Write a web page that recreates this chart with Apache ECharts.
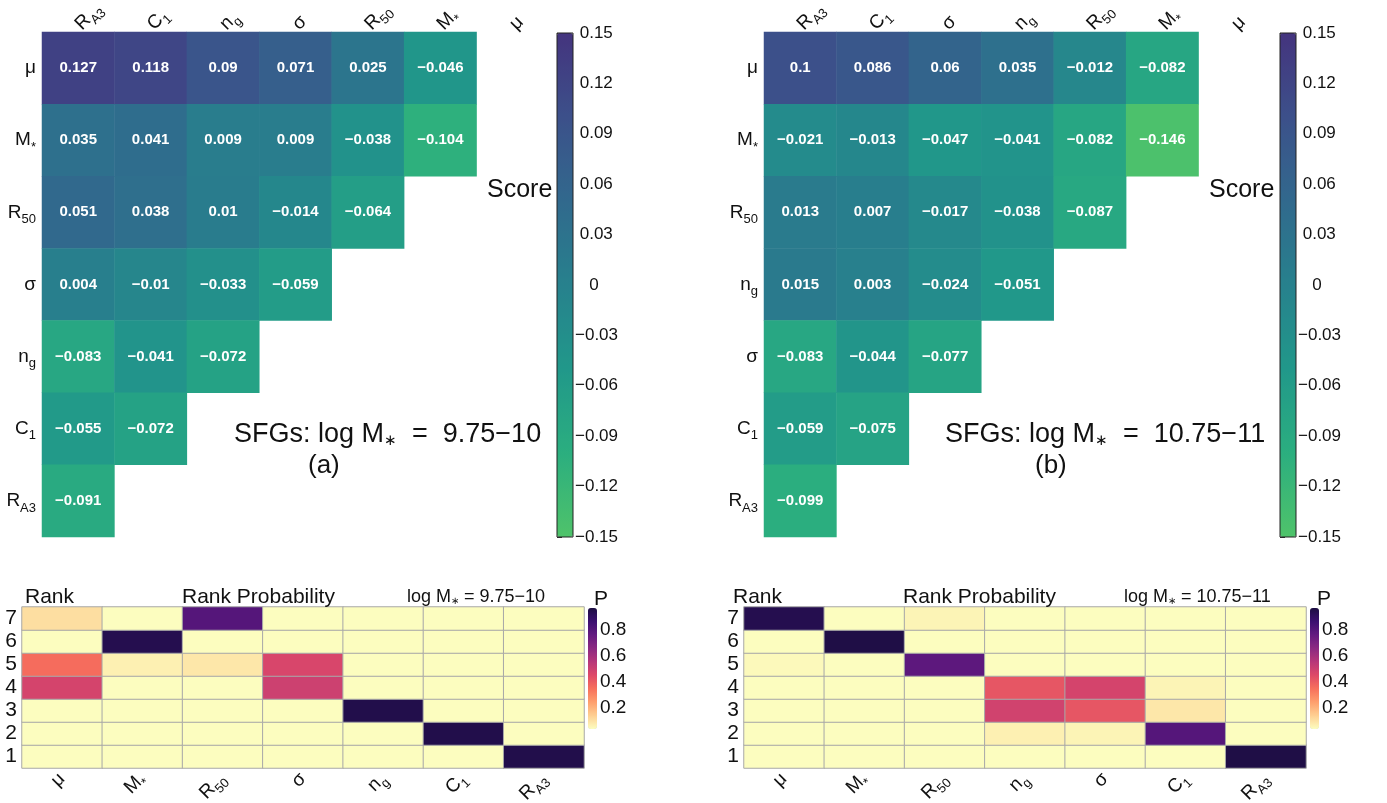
<!DOCTYPE html>
<html>
<head>
<meta charset="utf-8">
<script src="https://cdn.jsdelivr.net/npm/echarts@6/dist/echarts.min.js"></script>
<style>
  html, body { margin: 0; padding: 0; background: #fff; }
  #main { width: 1387px; height: 803px; }
</style>
</head>
<body>
<div id="main"></div>
<script>
// ---- data ---------------------------------------------------------------
// score matrices (upper panels), rows top->bottom, cols left->right
var colsA = ['RA3', 'C1', 'ng', 'σ', 'R50', 'M*', 'μ'];
var rowsA = ['μ', 'M*', 'R50', 'σ', 'ng', 'C1', 'RA3'];
var scoreA = [
    [0.127, 0.118, 0.09, 0.071, 0.025, -0.046],
    [0.035, 0.041, 0.009, 0.009, -0.038, -0.104],
    [0.051, 0.038, 0.01, -0.014, -0.064],
    [0.004, -0.01, -0.033, -0.059],
    [-0.083, -0.041, -0.072],
    [-0.055, -0.072],
    [-0.091]
];

var colsB = ['RA3', 'C1', 'σ', 'ng', 'R50', 'M*', 'μ'];
var rowsB = ['μ', 'M*', 'R50', 'ng', 'σ', 'C1', 'RA3'];
var scoreB = [
    [0.1, 0.086, 0.06, 0.035, -0.012, -0.082],
    [-0.021, -0.013, -0.047, -0.041, -0.082, -0.146],
    [0.013, 0.007, -0.017, -0.038, -0.087],
    [0.015, 0.003, -0.024, -0.051],
    [-0.083, -0.044, -0.077],
    [-0.059, -0.075],
    [-0.099]
];
var scoreTicks = [-0.15, 0.15, 0.03];

// rank probability (lower panels), one array per parameter, ranks 1..7
var ranks = ['1', '2', '3', '4', '5', '6', '7'];
var paramsPA = ['μ', 'M*', 'R50', 'σ', 'ng', 'C1', 'RA3'];
var probA = [
    [0.01, 0.01, 0.01, 0.48, 0.36, 0.01, 0.11],
    [0.01, 0.01, 0.01, 0.01, 0.07, 0.94, 0.01],
    [0.01, 0.01, 0.01, 0.01, 0.09, 0.02, 0.80],
    [0.01, 0.01, 0.01, 0.50, 0.47, 0.01, 0.01],
    [0.01, 0.01, 0.95, 0.01, 0.01, 0.01, 0.01],
    [0.01, 0.95, 0.01, 0.01, 0.01, 0.01, 0.01],
    [0.95, 0.01, 0.01, 0.01, 0.01, 0.01, 0.01]
];
var paramsPB = ['μ', 'M*', 'R50', 'ng', 'σ', 'C1', 'RA3'];
var probB = [
    [0.01, 0.01, 0.01, 0.01, 0.05, 0.01, 0.94],
    [0.01, 0.01, 0.01, 0.01, 0.01, 0.96, 0.01],
    [0.01, 0.01, 0.01, 0.01, 0.78, 0.01, 0.06],
    [0.01, 0.07, 0.49, 0.42, 0.01, 0.01, 0.01],
    [0.01, 0.06, 0.42, 0.48, 0.01, 0.01, 0.01],
    [0.01, 0.80, 0.09, 0.06, 0.01, 0.01, 0.01],
    [0.96, 0.01, 0.01, 0.01, 0.01, 0.01, 0.01]
];
var probTicks = [0.2, 0.4, 0.6, 0.8];

// ---- helpers ------------------------------------------------------------
var FONT = '"Liberation Sans", Arial, sans-serif';
var viridis = ['#4fc36a', '#2bae7f', '#21988a', '#27818d', '#31698d', '#3c508a', '#44347e'];
var magmaR = ['#fcfdbf', '#fecf92', '#fe9f6d', '#f7705c', '#de4968', '#b73779', '#8c2981', '#641a80', '#3b0f70', '#1c0e42'];

var richNames = {
    'RA3': '{m|R}{s|A3}',
    'C1': '{m|C}{s|1}',
    'ng': '{m|n}{s|g}',
    'σ': '{m|σ}',
    'R50': '{m|R}{s|50}',
    'M*': '{m|M}{s|*}',
    'μ': '{m|μ}'
};
function richStyle(size) {
    return {
        m: { fontSize: size, lineHeight: size + 8, fontFamily: FONT, color: '#111' },
        s: { fontSize: Math.round(size * 0.68), lineHeight: 12, verticalAlign: 'bottom', fontFamily: FONT, color: '#111' }
    };
}
function minus(v) {
    return String(v).replace('-', '\u2212');
}
function triData(mat) {
    var out = [];
    mat.forEach(function (row, r) {
        row.forEach(function (v, c) { out.push([c, r, v]); });
    });
    return out;
}
function probData(mat) {
    var out = [];
    mat.forEach(function (col, c) {
        col.forEach(function (v, r) { out.push([c, r, v]); });
    });
    return out;
}

// ---- layout -------------------------------------------------------------
function box(left, top, width, height) {
    return { left: left, top: top, width: width, height: height, outerBoundsMode: 'none', containLabel: false };
}
var grids = [
    box(42, 32, 507, 505),       // 0 score a
    box(764, 32, 507, 505),      // 1 score b
    box(22, 607, 562, 161),      // 2 prob a
    box(744, 607, 562, 161),     // 3 prob b
    box(557, 33, 16, 504),       // 4 colorbar a
    box(1280, 33, 16, 504),      // 5 colorbar b
    box(588, 604, 9, 130),       // 6 P bar a
    box(1310, 604, 9, 130)       // 7 P bar b
];
[4, 5].forEach(function (i) {
    grids[i].show = true;
    grids[i].borderColor = '#222';
    grids[i].borderWidth = 1;
    grids[i].backgroundColor = 'transparent';
    grids[i].z = 10;
});

function scoreX(i, cats) {
    return {
        gridIndex: i, type: 'category', position: 'top', data: cats,
        axisLine: { show: false }, axisTick: { show: false }, splitLine: { show: false },
        axisLabel: { interval: 0, rotate: -45, margin: 5, formatter: function (v) { return richNames[v]; }, rich: richStyle(19) }
    };
}
function scoreY(i, cats) {
    return {
        gridIndex: i, type: 'category', inverse: true, data: cats,
        axisLine: { show: false }, axisTick: { show: false }, splitLine: { show: false },
        axisLabel: { interval: 0, margin: 6, formatter: function (v) { return richNames[v]; }, rich: richStyle(19) }
    };
}
function probX(i, cats) {
    return {
        gridIndex: i, type: 'category', data: cats,
        axisLine: { show: false }, axisTick: { show: false }, splitLine: { show: false },
        axisLabel: { interval: 0, rotate: 45, margin: 8, formatter: function (v) { return richNames[v]; }, rich: richStyle(19) }
    };
}
function probY(i) {
    return {
        gridIndex: i, type: 'category', data: ranks,
        axisLine: { show: false }, axisTick: { show: false }, splitLine: { show: false },
        axisLabel: { interval: 0, margin: 5, fontSize: 21, fontFamily: FONT, color: '#111' }
    };
}
function cbY(i) {
    return {
        gridIndex: i, type: 'value', position: 'right',
        min: scoreTicks[0], max: scoreTicks[1], interval: scoreTicks[2],
        axisLine: { show: false }, splitLine: { show: false },
        axisTick: { show: true, length: 5, lineStyle: { color: '#333' } },
        axisLabel: {
            margin: 2, fontSize: 17, fontFamily: FONT, color: '#111',
            formatter: function (v) { return Math.abs(v) < 1e-9 ? '   0' : (v < 0 ? '\u2212' : ' ') + Math.abs(v).toFixed(2); }
        }
    };
}
function pbY(i) {
    return {
        gridIndex: i, type: 'value', position: 'right', min: 0, max: 1, interval: 0.2,
        showMinLabel: false, showMaxLabel: false,
        axisLine: { show: false }, splitLine: { show: false }, axisTick: { show: false },
        axisLabel: {
            margin: 3, fontSize: 19, fontFamily: FONT, color: '#111',
            formatter: function (v) { return probTicks.indexOf(Math.round(v * 10) / 10) >= 0 ? v.toFixed(1) : ''; }
        }
    };
}
function hiddenX(i) {
    return { gridIndex: i, type: 'value', show: false, min: 0, max: 1 };
}

function scoreSeries(i, mat) {
    return {
        type: 'heatmap', xAxisIndex: i, yAxisIndex: i, data: triData(mat),
        label: {
            show: true, color: '#fff', fontWeight: 'bold', fontSize: 15, fontFamily: FONT,
            formatter: function (p) { return minus(p.value[2]); }
        },
        itemStyle: { borderWidth: 0 },
        emphasis: { disabled: true }
    };
}
function probSeries(i, mat) {
    return {
        type: 'heatmap', xAxisIndex: i, yAxisIndex: i, data: probData(mat),
        itemStyle: { borderColor: '#a8a8a8', borderWidth: 1 },
        emphasis: { disabled: true }
    };
}

function txt(left, top, text, size) {
    return {
        left: left, top: top, text: text,
        textStyle: {
            fontSize: size, fontWeight: 'normal', fontFamily: FONT, color: '#111',
            rich: {
                s: { fontSize: Math.round(size * 0.55), lineHeight: 10, verticalAlign: 'bottom', fontFamily: FONT, color: '#111' }
            }
        }
    };
}

var myChart = echarts.init(document.getElementById('main'));
var option = {
    backgroundColor: '#fff',
    animation: false,
    title: [
        txt(482, 173, 'Score', 25),
        txt(1204, 173, 'Score', 25),
        txt(229, 416, 'SFGs: log M{s|\u2217}  =  9.75\u221210', 27),
        txt(303, 448, '(a)', 26),
        txt(940, 416, 'SFGs: log M{s|\u2217}  =  10.75\u221211', 27),
        txt(1030, 448, '(b)', 26),
        txt(20, 582, 'Rank', 21),
        txt(177, 582, 'Rank Probability', 21),
        txt(402, 583, 'log M{s|\u2217} = 9.75\u221210', 18),
        txt(589, 584, 'P', 21),
        txt(728, 582, 'Rank', 21),
        txt(898, 582, 'Rank Probability', 21),
        txt(1119, 583, 'log M{s|\u2217} = 10.75\u221211', 18),
        txt(1312, 584, 'P', 21)
    ],
    grid: grids,
    xAxis: [scoreX(0, colsA), scoreX(1, colsB), probX(2, paramsPA), probX(3, paramsPB),
            hiddenX(4), hiddenX(5), hiddenX(6), hiddenX(7)],
    yAxis: [scoreY(0, rowsA), scoreY(1, rowsB), probY(2), probY(3),
            cbY(4), cbY(5), pbY(6), pbY(7)],
    visualMap: [
        { type: 'continuous', seriesIndex: 0, min: -0.15, max: 0.15, orient: 'vertical', left: 557, top: 33,
          itemWidth: 16, itemHeight: 504, padding: 0, calculable: false, inRange: { color: viridis } },
        { type: 'continuous', seriesIndex: 1, min: -0.15, max: 0.15, orient: 'vertical', left: 1280, top: 33,
          itemWidth: 16, itemHeight: 504, padding: 0, calculable: false, inRange: { color: viridis } },
        { type: 'continuous', seriesIndex: 2, min: 0.04, max: 0.97, orient: 'vertical', left: 588, top: 608,
          itemWidth: 9, itemHeight: 121, padding: 0, calculable: false, inRange: { color: magmaR } },
        { type: 'continuous', seriesIndex: 3, min: 0.04, max: 0.97, orient: 'vertical', left: 1310, top: 608,
          itemWidth: 9, itemHeight: 121, padding: 0, calculable: false, inRange: { color: magmaR } }
    ],
    series: [
        scoreSeries(0, scoreA),
        scoreSeries(1, scoreB),
        probSeries(2, probA),
        probSeries(3, probB)
    ]
};

option && myChart.setOption(option);
</script>
</body>
</html>
